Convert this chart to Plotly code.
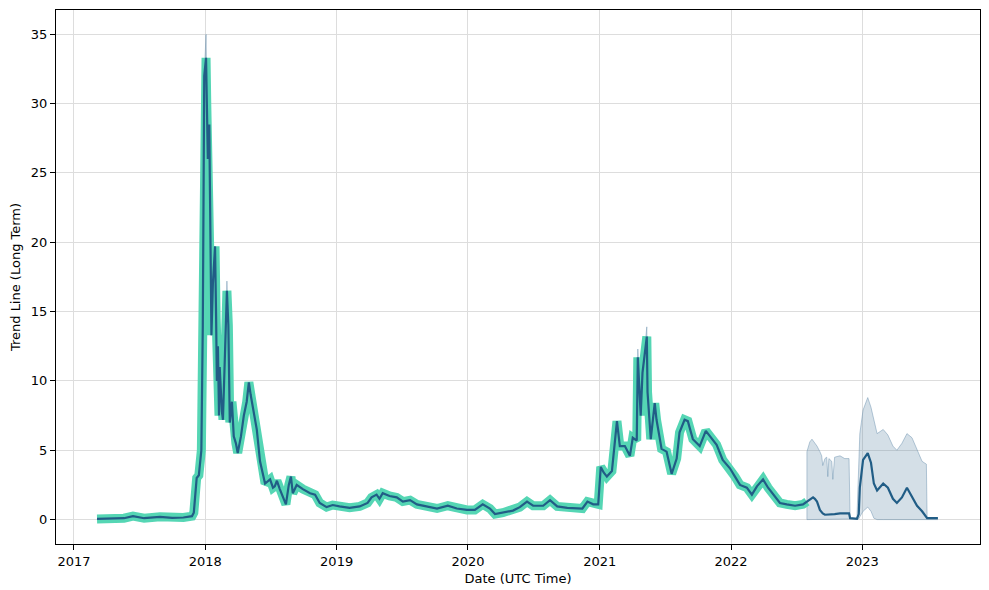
import plotly.graph_objects as go

# ---- historical (actual) series ----
hist_dates = [
    "2017-03-06", "2017-04-15", "2017-05-20", "2017-06-14", "2017-07-15", "2017-08-28",
    "2017-10-01", "2017-11-01", "2017-11-25", "2017-11-30", "2017-12-08", "2017-12-14",
    "2017-12-21", "2017-12-25", "2017-12-29", "2018-01-03", "2018-01-05", "2018-01-08",
    "2018-01-12", "2018-01-18", "2018-01-22", "2018-01-28", "2018-01-31", "2018-02-02",
    "2018-02-05", "2018-02-08", "2018-02-10", "2018-02-13", "2018-02-16", "2018-02-19",
    "2018-02-24", "2018-03-02", "2018-03-06", "2018-03-10",
    "2018-03-16", "2018-03-21", "2018-03-27", "2018-04-01", "2018-04-10", "2018-04-18",
    "2018-04-26", "2018-05-02", "2018-05-07", "2018-05-16", "2018-05-24", "2018-06-02",
    "2018-06-10", "2018-06-16", "2018-06-30", "2018-07-08", "2018-07-13", "2018-07-19",
    "2018-07-27", "2018-08-02", "2018-08-13", "2018-08-21", "2018-08-27", "2018-09-01",
    "2018-09-12", "2018-09-29", "2018-10-19", "2018-11-02", "2018-11-15", "2018-12-04",
    "2018-12-21", "2019-01-09", "2019-02-06", "2019-03-06", "2019-03-28", "2019-04-08",
    "2019-04-22", "2019-04-30", "2019-05-09", "2019-05-28", "2019-06-17", "2019-07-04",
    "2019-07-24", "2019-08-12", "2019-09-09", "2019-10-07", "2019-11-06", "2019-12-01",
    "2019-12-29", "2020-01-20", "2020-02-11", "2020-03-02", "2020-03-16", "2020-04-07",
    "2020-05-05", "2020-05-24", "2020-06-13", "2020-06-30", "2020-07-28", "2020-08-16",
    "2020-09-05", "2020-10-03", "2020-10-31", "2020-11-14", "2020-11-28", "2020-12-14",
    "2020-12-28", "2021-01-04", "2021-01-12", "2021-01-21", "2021-02-04", "2021-02-18",
    "2021-02-26", "2021-03-12", "2021-03-26", "2021-04-03", "2021-04-14", "2021-04-17",
    "2021-04-25", "2021-04-30", "2021-05-12", "2021-05-14", "2021-05-23", "2021-06-03",
    "2021-06-08", "2021-06-22", "2021-07-06", "2021-07-20", "2021-08-03", "2021-08-11",
    "2021-08-25", "2021-09-03", "2021-09-17", "2021-10-06", "2021-10-23", "2021-11-08",
    "2021-11-22", "2021-12-09", "2021-12-29", "2022-01-12", "2022-01-26", "2022-02-14",
    "2022-02-28", "2022-03-14", "2022-03-31", "2022-04-14", "2022-05-03", "2022-05-17",
    "2022-06-05", "2022-06-28", "2022-07-20", "2022-07-31",
]
hist_values = [
    0.05, 0.05, 0.10, 0.25, 0.10, 0.20,
    0.12, 0.15, 0.25, 0.50, 3.0, 3.2,
    5.0, 14.0, 32.0, 33.3, 30.0, 26.0,
    28.5, 13.3, 17.0, 19.7, 14.5, 10.0,
    12.5, 7.5, 11.0, 9.0, 7.8, 7.2,
    11.0, 16.5, 14.0, 7.0,
    8.5, 6.0, 5.5, 4.8, 6.0, 7.5,
    8.5, 9.9, 9.0, 7.5, 6.5, 4.2,
    3.3, 2.6, 2.9, 2.3, 2.4, 2.8,
    2.2, 1.8, 1.1, 2.5, 3.1, 1.9,
    2.5, 2.2, 1.9, 1.8, 1.2, 0.9,
    1.05, 0.95, 0.85, 0.95, 1.2, 1.6,
    1.8, 1.5, 1.9, 1.7, 1.6, 1.3,
    1.4, 1.1, 0.95, 0.8, 1.0, 0.8,
    0.7, 0.7, 1.1, 0.8, 0.4, 0.5,
    0.65, 0.9, 1.3, 1.0, 1.0, 1.4,
    0.95, 0.85, 0.85, 0.8, 1.3, 1.1,
    1.1, 3.8, 3.4, 3.1, 3.5, 7.1,
    5.3, 5.3, 4.6, 5.9, 5.7, 11.7,
    7.5, 10.6, 13.2, 9.2, 5.8, 8.4,
    7.2, 5.1, 4.9, 3.3, 4.4, 6.3,
    7.2, 7.1, 5.8, 5.3, 6.4, 5.9,
    5.4, 4.3, 3.7, 3.1, 2.5, 2.3,
    1.8, 2.4, 2.9, 2.3, 1.7, 1.2,
    1.1, 1.0, 1.1, 1.3,
]
# upper band where it pokes above the fitted line in the history
hist_upper_spikes = {"2018-01-03": 35.0, "2018-03-02": 17.2, "2021-04-17": 12.3, "2021-05-12": 13.9}

# ---- forecast series ----
fc_dates = [
    "2022-07-31", "2022-08-08", "2022-08-14", "2022-08-17", "2022-08-22", "2022-08-28",
    "2022-09-05", "2022-09-10", "2022-09-13", "2022-09-19", "2022-09-24", "2022-09-27",
    "2022-09-30", "2022-10-08", "2022-10-11", "2022-10-16", "2022-10-31", "2022-11-13",
    "2022-11-25", "2022-11-28", "2022-12-17", "2022-12-22", "2022-12-25", "2023-01-03",
    "2023-01-16", "2023-01-25", "2023-02-02", "2023-02-11", "2023-02-28", "2023-03-13",
    "2023-03-27", "2023-04-07", "2023-04-21", "2023-05-05", "2023-05-19", "2023-06-02",
    "2023-06-16", "2023-06-28", "2023-06-30", "2023-07-30",
]
fc_yhat = [
    1.2, 1.4, 1.55, 1.6, 1.5, 1.3,
    0.7, 0.5, 0.45, 0.35, 0.35, 0.35,
    0.35, 0.35, 0.35, 0.4, 0.45, 0.45,
    0.45, 0.1, 0.05, 0.4, 2.3, 4.3,
    4.8, 4.1, 2.6, 2.1, 2.6, 2.3,
    1.5, 1.2, 1.6, 2.3, 1.6, 1.0,
    0.6, 0.15, 0.1, 0.1,
]
fc_lower = [
    0.0, 0.0, 0.0, 0.0, 0.0, 0.0,
    0.0, 0.0, 0.0, 0.0, 0.0, 0.0,
    0.0, 0.0, 0.0, 0.0, 0.0, 0.0,
    0.0, 0.0, 0.0, 0.05, 0.2, 0.6,
    0.9, 0.6, 0.1, 0.0, 0.0, 0.0,
    0.0, 0.0, 0.0, 0.0, 0.0, 0.0,
    0.0, 0.0, 0.0, 0.0,
]
fc_upper = [
    4.9, 5.6, 5.8, 5.7, 5.5, 5.3,
    4.9, 4.6, 3.9, 4.4, 4.5, 3.1,
    4.4, 4.2, 2.9, 4.5, 4.6, 4.4,
    4.4, 0.1, 0.1, 4.5, 6.2, 7.9,
    8.8, 8.1, 7.2, 6.2, 6.5, 6.1,
    5.3, 5.0, 5.5, 6.2, 5.9, 5.0,
    4.2, 4.0, 0.1, 0.1,
]

x_ticks = ["2017-01-01", "2018-01-01", "2019-01-01", "2020-01-01", "2021-01-01", "2022-01-01", "2023-01-01"]
x_tick_labels = ["2017", "2018", "2019", "2020", "2021", "2022", "2023"]
y_ticks = [0, 5, 10, 15, 20, 25, 30, 35]

band_dates = hist_dates + fc_dates
band_lower = hist_values + fc_lower
band_upper = [hist_upper_spikes.get(d, v) for d, v in zip(hist_dates, hist_values)] + fc_upper

BAND_FILL = "rgba(100,140,170,0.28)"
BAND_EDGE = "rgba(100,140,170,0.45)"
TEAL = "#55d6b4"
DARK = "#215d86"

fig = go.Figure()
fig.add_trace(go.Scatter(x=band_dates, y=band_lower, mode="lines",
                         line=dict(color=BAND_EDGE, width=1), showlegend=False, hoverinfo="skip"))
fig.add_trace(go.Scatter(x=band_dates, y=band_upper, mode="lines", fill="tonexty",
                         fillcolor=BAND_FILL, line=dict(color=BAND_EDGE, width=1),
                         showlegend=False, hoverinfo="skip"))
fig.add_trace(go.Scatter(x=hist_dates, y=hist_values, mode="lines",
                         line=dict(color=TEAL, width=9), showlegend=False))
fig.add_trace(go.Scatter(x=hist_dates + fc_dates[1:], y=hist_values + fc_yhat[1:], mode="lines",
                         line=dict(color=DARK, width=2.2), showlegend=False))

axis_common = dict(
    showline=True, linecolor="black", linewidth=1, mirror=True,
    ticks="outside", ticklen=5, tickcolor="black", tickwidth=1,
    showgrid=True, gridcolor="#dddddd", gridwidth=1, zeroline=False,
    tickfont=dict(family="DejaVu Sans", size=13, color="black"),
)
fig.update_xaxes(range=["2016-11-12", "2023-11-24"], tickvals=x_ticks, ticktext=x_tick_labels,
                 title=dict(text="Date (UTC Time)", font=dict(family="DejaVu Sans", size=13, color="black"), standoff=6),
                 **axis_common)
fig.update_yaxes(range=[-1.76, 36.75], tickvals=y_ticks,
                 title=dict(text="Trend Line (Long Term)", font=dict(family="DejaVu Sans", size=13, color="black"), standoff=8),
                 **axis_common)
# the page body adds an 8px offset, so the figure is sized to fit the window inside it
fig.update_layout(
    width=981, height=582,
    margin=dict(l=48, r=9, t=2, b=46, autoexpand=False),
    paper_bgcolor="white", plot_bgcolor="white",
    font=dict(family="DejaVu Sans", size=13, color="black"),
)
fig.write_html("out.html")
